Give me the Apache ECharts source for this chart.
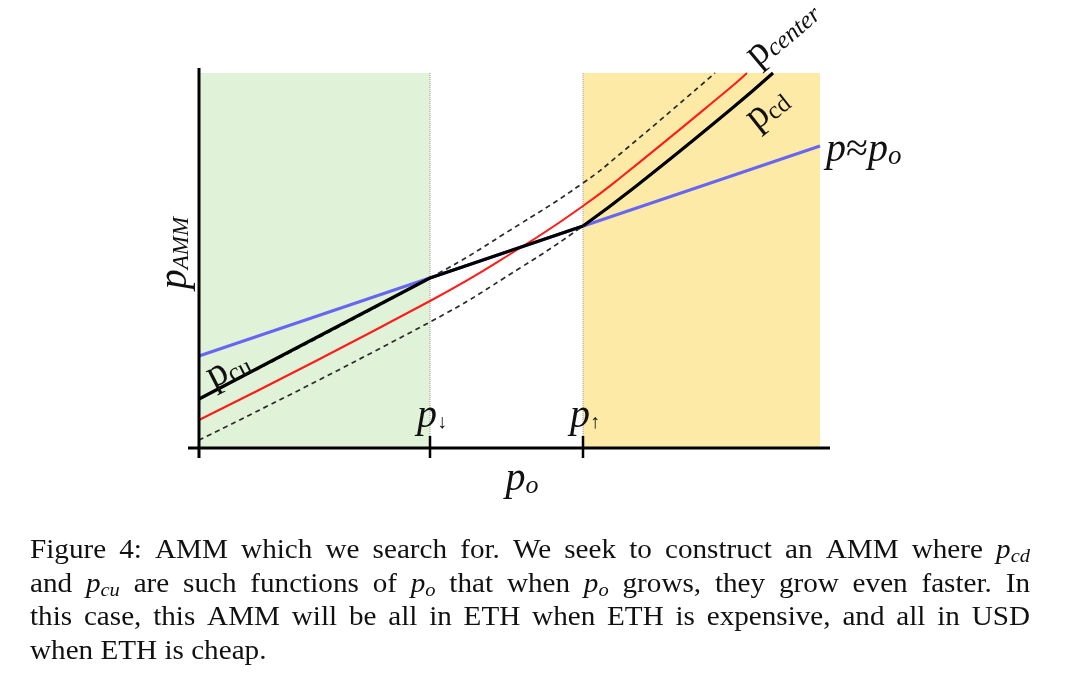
<!DOCTYPE html>
<html><head><meta charset="utf-8">
<script src="https://cdn.jsdelivr.net/npm/echarts@6/dist/echarts.min.js"></script>
<style>html,body{margin:0;padding:0;background:#fff}#c{width:1080px;height:679px}</style>
</head><body><div id="c"></div>
<script>
// ---- data (p_o on x, p_AMM on y) ----
const centerX = [0, 2.31, 3.21, 3.84, 4.21, 5.31, 5.48];
const centerY = [0.28, 1.47, 2.00, 2.42, 2.70, 3.60, 3.75];
const upperX  = [0, 2.31, 3.21, 3.84, 4.21, 5.16];
const upperY  = [0.49, 1.70, 2.24, 2.65, 2.94, 3.75];
const lowerX  = [0, 2.31, 3.21, 3.84, 4.36, 5.31, 5.74];
const lowerY  = [0.08, 1.26, 1.80, 2.22, 2.61, 3.38, 3.75];
const oracleX = [0, 6.21];
const oracleY = [0.92, 3.02];
const pDown = 2.31, pUp = 3.84;
const usdRange = [0, pDown], ethRange = [pUp, 6.21], regionTop = 3.75;
const xRange = [-0.11, 6.31], yRange = [-0.12, 3.80];
const tickLow = -0.10, tickHigh = 0.12;
const regionTexts = ['AMM is all in USD', 'AMM is all in ETH'];
const captionLines = [
  ['Figure','4:','AMM','which','we','search','for.','We','seek','to','construct','an','AMM','where',['p','cd']],
  ['and',['p','cu'],'are','such','functions','of',['p','o'],'that','when',['p','o'],'grows,','they','grow','even','faster.','In'],
  ['this','case,','this','AMM','will','be','all','in','ETH','when','ETH','is','expensive,','and','all','in','USD'],
  ['when','ETH','is','cheap.']
];

const pairs = (xs, ys) => xs.map((x, i) => [x, ys[i]]);
const SERIF = '"Liberation Serif", "DejaVu Serif", serif';

// black p_AMM: p_cu part (upper), oracle part, p_cd part (lower)
const blackStraight = pairs(upperX, upperY).filter(p => p[0] <= pDown).concat([[pUp, lowerY[lowerX.indexOf(pUp)]]]);
const blackRight = pairs(lowerX, lowerY).filter(p => p[0] >= pUp);

const chart = echarts.init(document.getElementById('c'), null, {renderer: 'canvas'});

function lineSeries(data, color, width, extra) {
  return Object.assign({
    type: 'line', data, symbol: 'none', silent: true,
    lineStyle: {color, width}, animation: false
  }, extra || {});
}
const SMOOTH = {smooth: 0.5};

const series = [
  lineSeries([[usdRange[0], 0], [usdRange[0], 0]], 'rgba(0,0,0,0)', 0, {
    markArea: {silent: true, z: 1, data: [
      [{xAxis: usdRange[0], yAxis: 0, itemStyle: {color: '#e0f2d8'}}, {xAxis: usdRange[1], yAxis: regionTop}],
      [{xAxis: ethRange[0], yAxis: 0, itemStyle: {color: '#fdeaa7'}}, {xAxis: ethRange[1], yAxis: regionTop}]
    ]}
  }),
  lineSeries([[pDown, 0], [pDown, regionTop]], '#9a9a9a', 1, {lineStyle: {color: '#9a9a9a', width: 1, type: [1, 1]}}),
  lineSeries([[pUp, 0], [pUp, regionTop]], '#9a9a9a', 1, {lineStyle: {color: '#9a9a9a', width: 1, type: [1, 1]}}),
  lineSeries(pairs(lowerX, lowerY), '#333', 1.6, Object.assign({lineStyle: {color: '#2a2a2a', width: 1.7, type: [5, 4]}}, SMOOTH)),
  lineSeries(pairs(upperX, upperY), '#333', 1.6, Object.assign({lineStyle: {color: '#2a2a2a', width: 1.7, type: [5, 4]}}, SMOOTH)),
  lineSeries(pairs(oracleX, oracleY), '#6666f2', 3),
  lineSeries(pairs(centerX, centerY), '#ff1a1a', 2, SMOOTH),
  lineSeries(blackStraight, '#000', 3.2),
  lineSeries(blackRight, '#000', 3.2, SMOOTH),
  // axes
  lineSeries([[xRange[0], 0], [xRange[1], 0]], '#000', 3),
  lineSeries([[0, tickLow], [0, yRange[1]]], '#000', 3),
  lineSeries([[pDown, tickLow], [pDown, tickHigh]], '#000', 2.5),
  lineSeries([[pUp, tickLow], [pUp, tickHigh]], '#000', 2.5)
];

// ---- text ----
const ctx = document.createElement('canvas').getContext('2d');
function tw(t, font) { ctx.font = font; return ctx.measureText(t).width; }
const CAP_FS = 27, CAP_SUB = 19, CAP_SX = 1.08, CAP_LEFT = 30, CAP_RIGHT = 1030, CAP_Y0 = 551, CAP_LH = 33.7;
const fN = CAP_FS + 'px ' + SERIF, fI = 'italic ' + CAP_FS + 'px ' + SERIF, fS = 'italic ' + CAP_SUB + 'px ' + SERIF;
function tokW(tok) { return typeof tok === 'string' ? tw(tok, fN) : tw(tok[0], fI) + tw(tok[1], fS); }

const graphics = [];
function mathRich(fs, sfs, italicMain, italicSub, pad) {
  return {
    m: {fontFamily: SERIF, fontSize: fs, fontStyle: italicMain ? 'italic' : 'normal', fill: '#111'},
    n: {fontFamily: SERIF, fontSize: fs, fill: '#111'},
    s: {fontFamily: SERIF, fontSize: sfs, fontStyle: italicSub ? 'italic' : 'normal', fill: '#111', padding: [pad, 0, 0, 0]}
  };
}
captionLines.forEach((line, li) => {
  const widths = line.map(t => tokW(t) * CAP_SX);
  const sum = widths.reduce((a, b) => a + b, 0);
  const justify = li < captionLines.length - 1;
  const gap = justify ? (CAP_RIGHT - CAP_LEFT - sum) / (line.length - 1) : tw(' ', fN) * CAP_SX;
  let x = CAP_LEFT;
  const y = CAP_Y0 + li * CAP_LH;
  line.forEach((tok, i) => {
    if (typeof tok === 'string') {
      graphics.push({type: 'text', x, y, scaleX: CAP_SX, silent: true,
        style: {text: tok, fontFamily: SERIF, fontSize: CAP_FS, fill: '#111', align: 'left', verticalAlign: 'middle'}});
    } else {
      graphics.push({type: 'text', x, y, scaleX: CAP_SX, silent: true,
        style: {text: '{m|' + tok[0] + '}{s|' + tok[1] + '}', rich: mathRich(CAP_FS, CAP_SUB, true, true, 12),
          align: 'left', verticalAlign: 'middle'}});
    }
    x += widths[i] + gap;
  });
});

function label(text, x, y, rot, fs, sfs, itMain, itSub, pad, align) {
  graphics.push({type: 'text', x, y, rotation: rot || 0, silent: true, z: 100,
    style: {text, rich: mathRich(fs, sfs, itMain, itSub, pad), align: align || 'center', verticalAlign: 'middle'}});
}
label('{m|p}{s|AMM}', 175, 253, Math.PI / 2, 40, 23, true, true, 14);
label('{m|p}{s|o}', 522, 479, 0, 40, 26, true, true, 14);
label('{m|p}{s|↓}', 417, 416, 0, 40, 20, true, false, 14, 'left');
label('{m|p}{s|↑}', 570, 416, 0, 40, 20, true, false, 14, 'left');
label('{m|p}{n|≈}{m|p}{s|o}', 826, 150, 0, 40, 27, true, true, 14, 'left');
label('{m|p}{s|cu}', 228, 369, 0.47, 40, 25, false, false, 14);
label('{m|p}{s|cd}', 767, 109, 0.67, 40, 25, false, false, 14);
label('{m|p}{s|center}', 782, 33, 0.70, 40, 25, false, true, 14);

graphics.push({type: 'text', x: 316, y: 127, silent: true,
  style: {text: regionTexts[0], fontFamily: SERIF, fontSize: 19, fill: '#222', align: 'center', verticalAlign: 'middle'}});
graphics.push({type: 'text', x: 716, y: 374, silent: true,
  style: {text: regionTexts[1], fontFamily: SERIF, fontSize: 19, fill: '#222', align: 'center', verticalAlign: 'middle'}});

chart.setOption({
  animation: false,
  backgroundColor: '#fff',
  grid: {left: 188, right: 250, top: 68, bottom: 219},
  xAxis: {type: 'value', min: xRange[0], max: xRange[1], show: false},
  yAxis: {type: 'value', min: yRange[0], max: yRange[1], show: false},
  series,
  graphic: {elements: graphics}
});
</script>
</body></html>
